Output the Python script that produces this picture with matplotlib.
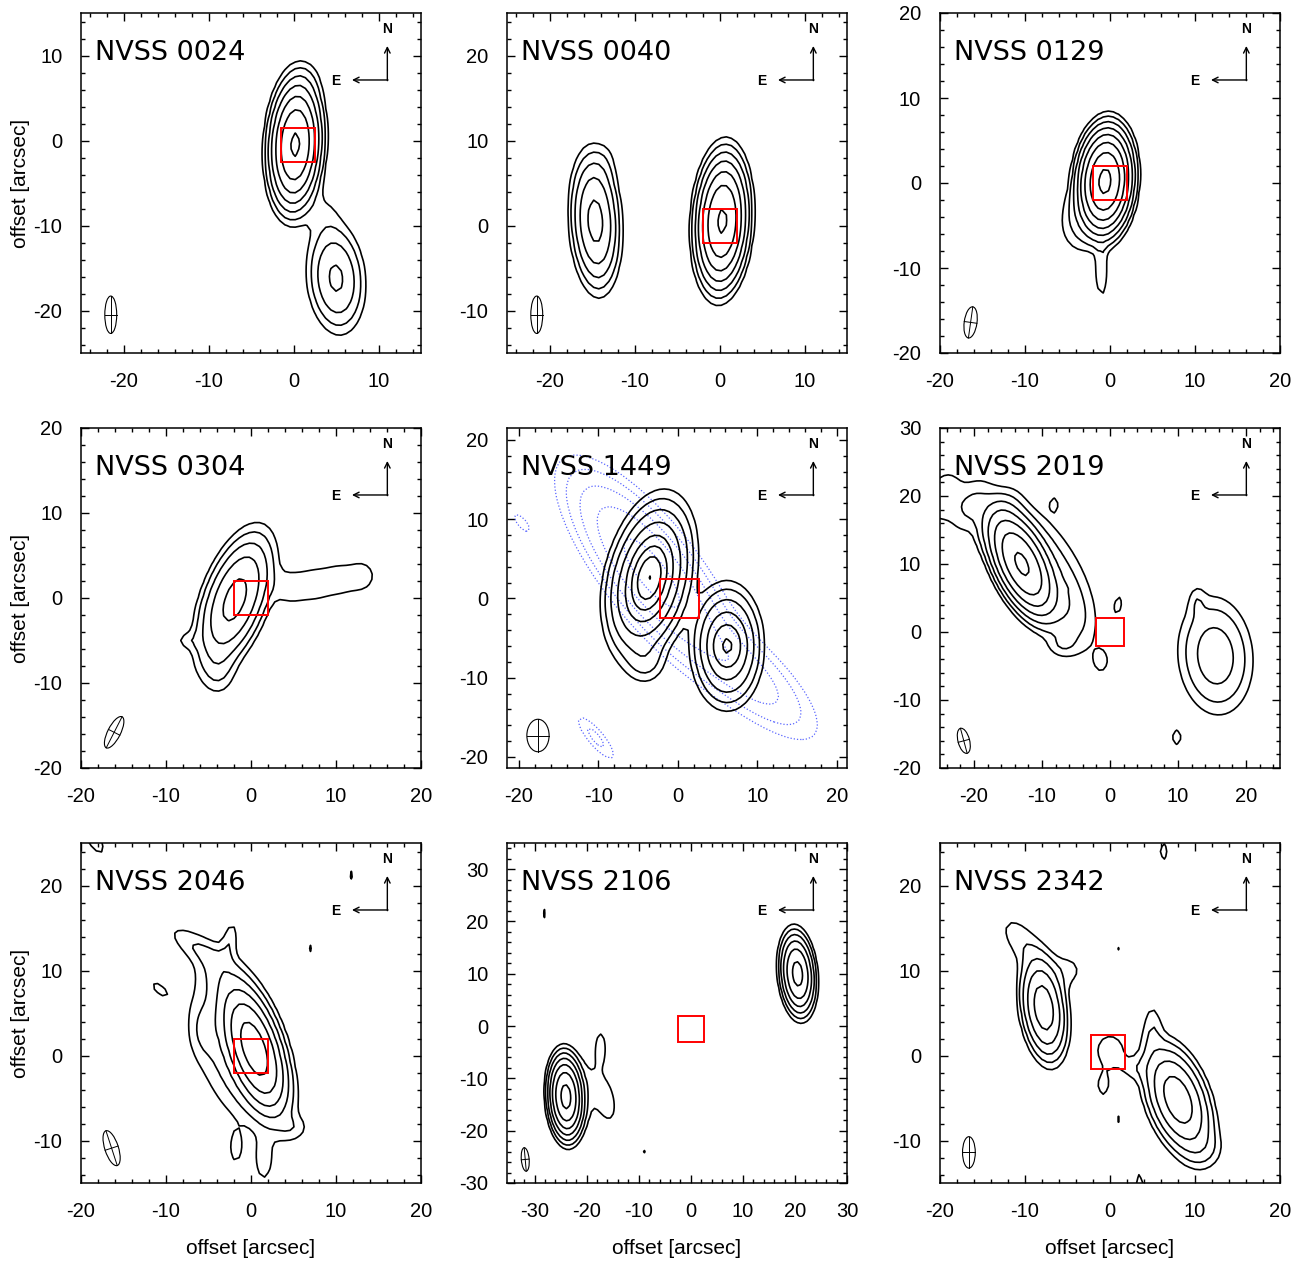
import numpy as np
import matplotlib
matplotlib.use("Agg")
import matplotlib.pyplot as plt
from matplotlib.patches import Ellipse, Rectangle
from matplotlib.ticker import MultipleLocator

plt.rcParams['axes.unicode_minus'] = False
plt.rcParams['font.family'] = ['Liberation Sans', 'DejaVu Sans']

# ---------------- data ----------------
names = ["NVSS 0024", "NVSS 0040", "NVSS 0129",
         "NVSS 0304", "NVSS 1449", "NVSS 2019",
         "NVSS 2046", "NVSS 2106", "NVSS 2342"]

xlims = [(-25, 15), (-25, 15), (-20, 20),
         (-20, 20), (-21.5, 21.3), (-25, 25),
         (-20, 20), (-35.3, 30), (-20, 20)]
ylims = [(-25, 15), (-15, 25), (-20, 20),
         (-20, 20), (-21.4, 21.5), (-20, 30),
         (-15, 25), (-30, 35), (-15, 25)]

# source components: (x0, y0, sigma_x, sigma_y, pa_deg, peak)  [arcsec, contour units]
src_0024 = [(0.2, -0.5, 1.3, 3.3, -3, 70),
            (1.5, 7.0, 1.2, 1.5, 0, 0.8),
            (5.0, -16.2, 1.65, 3.2, 5, 9),
            (3.5, -8.5, 1.5, 2.0, 0, 0.9)]
src_0040 = [(-14.6, 0.5, 1.3, 3.7, 3, 20),
            (-13.6, 7.0, 1.0, 2.0, -10, 0.8),
            (0.3, 0.5, 1.3, 3.4, -3, 70)]
src_0129 = [(-0.6, 0.2, 1.3, 2.6, -4, 150),
            (-1.0, -10.5, 0.5, 2.2, 0, 2.0),
            (-3.8, -4.5, 1.5, 2.5, 0, 2.0)]
src_0304 = [(-1.9, -0.2, 1.7, 3.9, -20, 20),
            (-3.8, -8.5, 1.3, 2.0, 0, 1.6),
            (4.5, 1.2, 1.5, 1.6, 0, 1.4),
            (7.5, 1.6, 1.5, 1.6, 0, 1.4),
            (10.5, 2.2, 1.5, 1.6, 0, 1.4),
            (13.2, 2.6, 1.2, 1.4, 0, 1.4),
            (-7.5, -5.0, 1.0, 0.7, 0, 1.1)]
src_1449 = [(-3.6, 2.6, 1.0, 2.0, -12, 100),
            (-3.5, 2.5, 2.2, 4.4, -12, 30),
            (-6.5, 0.0, 1.5, 3.0, 0, 1.5),
            (6.2, -6.0, 1.0, 1.5, 0, 20),
            (6.2, -6.0, 2.0, 3.5, 0, 16),
            (-4.0, -8.0, 1.5, 1.7, 0, 2.0)]
src_1449_blue = [(-3.5, 3.5, 2.5, 7.3, 38, 20),
                 (8.0, -9.0, 2.2, 6.5, 48, 6),
                 (-19.6, 9.5, 0.6, 1.5, 40, 1.5),
                 (-10.3, -17.6, 0.7, 2.4, 40, 2.5)]
src_2019 = [(-13.0, 10.0, 1.7, 3.8, 25, 70),
            (-9.5, 9.5, 3.0, 6.5, 30, 3),
            (-16.5, 16.5, 2.8, 1.6, 60, 2.0),
            (-20.5, 18.5, 2.8, 1.6, 65, 2.0),
            (-24.5, 20.0, 2.8, 1.8, 70, 1.9),
            (-6.0, 3.0, 2.0, 4.0, 20, 1.8),
            (-7.0, -2.0, 1.5, 1.2, 0, 1.4),
            (-8.2, 18.8, 0.6, 1.0, 0, 1.25),
            (-6.9, 6.5, 0.4, 0.4, 0, 1.1),
            (1.2, 4.0, 0.6, 1.4, -10, 1.3),
            (-1.3, -4.3, 0.9, 1.4, 0, 1.35),
            (9.8, -15.5, 0.8, 1.4, 0, 1.3),
            (8.5, 2.0, 0.2, 0.2, 0, 1.05),
            (15.5, -3.5, 2.9, 4.6, 5, 6),
            (12.8, 4.5, 0.8, 1.5, 0, 1.2)]
src_2046 = [(0.4, 0.8, 1.4, 3.6, 18, 45),
            (-1.5, 0.5, 3.0, 6.0, 20, 3.2),
            (-5.5, 3.0, 1.0, 2.0, 0, 1.2),
            (-3.5, 9.5, 1.5, 2.5, 30, 1.6),
            (-6.5, 12.8, 1.0, 2.8, 55, 1.6),
            (-2.5, 13.5, 0.6, 1.8, -10, 1.5),
            (-1.8, -11.0, 0.6, 1.5, 0, 1.3),
            (1.5, -12.5, 0.8, 2.0, 0, 1.35),
            (5.0, -8.5, 1.2, 1.0, 0, 1.2),
            (-18.5, 25.5, 0.8, 2.0, 30, 1.5),
            (-16.4, 12.3, 0.6, 0.4, 30, 1.2),
            (-10.8, 7.8, 0.6, 1.3, 50, 1.25),
            (11.8, 21.2, 0.3, 0.8, 0, 1.2),
            (6.9, 12.6, 0.3, 0.9, 0, 1.2)]
src_2106 = [(-24.0, -13.5, 1.4, 3.4, 3, 80),
            (-20.0, -12.0, 2.5, 5.0, 0, 1.2),
            (-17.3, -4.0, 0.8, 2.5, 0, 1.5),
            (-16.0, -14.5, 1.4, 3.5, 10, 1.3),
            (20.5, 10.0, 1.45, 3.5, 5, 40),
            (-28.3, 21.5, 0.35, 1.8, 0, 1.3),
            (-9.0, -24.0, 0.4, 0.6, 0, 1.2)]
src_2342 = [(-7.8, 5.6, 1.2, 2.9, 8, 24),
            (-10.5, 13.5, 1.3, 2.5, 35, 1.6),
            (-5.0, 10.0, 1.5, 1.5, 0, 1.3),
            (8.0, -5.2, 1.6, 3.2, 20, 24),
            (5.0, 3.0, 0.8, 2.3, 0, 1.6),
            (11.0, -11.0, 1.5, 1.5, 0, 1.4),
            (0.0, 0.6, 1.3, 1.5, 0, 1.8),
            (-0.8, -3.5, 0.7, 1.3, 0, 1.4),
            (2.8, -1.5, 1.3, 1.0, 0, 1.2),
            (0.9, 12.5, 0.2, 0.8, 0, 1.2),
            (1.0, -7.5, 0.35, 0.6, 0, 1.2),
            (15.9, -12.0, 0.12, 0.5, 0, 1.1),
            (6.3, 24.0, 0.6, 1.3, 0, 1.3),
            (3.5, -16.5, 0.6, 2.8, 0, 1.5)]

sources = [src_0024, src_0040, src_0129, src_0304, src_1449,
           src_2019, src_2046, src_2106, src_2342]

levels = [[1, 2, 4, 8, 16, 32, 64],
          [1, 2, 4, 8, 16, 32, 64],
          [1, 2, 4, 8, 16, 32, 64, 128],
          [1, 2, 4, 8, 16],
          [1, 2, 4, 8, 16, 32, 64, 128],
          [1, 2, 4, 8, 16, 32, 64],
          [1, 2, 4, 8, 16, 32],
          [1, 2, 4, 8, 16, 32, 64],
          [1, 2, 4, 8, 16]]
levels_1449_blue = [1, 2, 4, 8, 16]

# optical position boxes: (x_center, y_center, size)
boxes = [(0.5, -0.5, 4), (0, 0, 4), (0, 0, 4),
         (0, 0, 4), (0.2, 0.0, 5), (0, 0, 4),
         (0, -0.1, 4), (0, -0.5, 5), (-0.25, 0.45, 4)]

# restoring beams: (x, y, minor, major, pa_deg)
beams = [(-21.5, -20.5, 1.4, 4.4, 0), (-21.5, -10.5, 1.4, 4.4, 0),
         (-16.4, -16.4, 1.5, 3.7, -8), (-16.1, -15.8, 1.5, 4.1, -27),
         (-17.6, -17.3, 2.8, 4.1, 0), (-21.5, -16.0, 1.7, 3.8, 15),
         (-16.4, -10.9, 1.6, 4.3, 18), (-31.8, -25.5, 1.5, 4.5, 5),
         (-16.6, -11.4, 1.5, 3.7, 0)]


# ---------------- helpers ----------------
def field(comps, X, Y):
    Z = np.zeros_like(X)
    for (x0, y0, sx, sy, pa, amp) in comps:
        a = np.radians(pa)
        dx, dy = X - x0, Y - y0
        u = dx * np.cos(a) + dy * np.sin(a)
        v = -dx * np.sin(a) + dy * np.cos(a)
        Z += amp * np.exp(-0.5 * ((u / sx) ** 2 + (v / sy) ** 2))
    return Z


W, H = 1307, 1261
fig = plt.figure(figsize=(W / 100, H / 100), dpi=100)
col_left = [81, 507, 940]
row_top = [13, 428, 843]
size_px = 340

for i in range(9):
    r, c = divmod(i, 3)
    ax = fig.add_axes([col_left[c] / W, 1 - (row_top[r] + size_px) / H,
                       size_px / W, size_px / H])
    xl, yl = xlims[i], ylims[i]
    gx = np.arange(xl[0] - 3, xl[1] + 3, 0.6)
    gy = np.arange(yl[0] - 3, yl[1] + 3, 0.6)
    X, Y = np.meshgrid(gx, gy)

    if i == 4:
        Zb = field(src_1449_blue, X, Y)
        ax.contour(X, Y, Zb, levels=levels_1449_blue, colors='#5a66ff',
                   linewidths=0.9, linestyles=[(0, (1, 1.6))])
    Z = field(sources[i], X, Y)
    ax.contour(X, Y, Z, levels=levels[i], colors='black', linewidths=1.2)

    bx, by, bs = boxes[i]
    ax.add_patch(Rectangle((bx - bs / 2, by - bs / 2), bs, bs, fill=False,
                           edgecolor='red', linewidth=1.4, zorder=5))

    ex, ey, bmin, bmaj, bpa = beams[i]
    a = np.radians(bpa)
    ax.add_patch(Ellipse((ex, ey), width=bmin, height=bmaj, angle=bpa,
                         fill=False, edgecolor='black', linewidth=0.8))
    ax.plot([ex + bmaj / 2 * np.sin(a), ex - bmaj / 2 * np.sin(a)],
            [ey - bmaj / 2 * np.cos(a), ey + bmaj / 2 * np.cos(a)],
            color='black', lw=0.7)
    ax.plot([ex - bmin / 2 * np.cos(a), ex + bmin / 2 * np.cos(a)],
            [ey - bmin / 2 * np.sin(a), ey + bmin / 2 * np.sin(a)],
            color='black', lw=0.7)

    ax.set_xlim(*xl)
    ax.set_ylim(*yl)
    ax.xaxis.set_major_locator(MultipleLocator(10))
    ax.yaxis.set_major_locator(MultipleLocator(10))
    ax.xaxis.set_minor_locator(MultipleLocator(2))
    ax.yaxis.set_minor_locator(MultipleLocator(2))
    ax.tick_params(which='both', direction='in', top=True, right=True,
                   labelsize=14.5, pad=13.5, width=1.0)
    ax.tick_params(which='major', length=6)
    ax.tick_params(which='minor', length=3)
    for sp in ax.spines.values():
        sp.set_linewidth(1.1)

    ax.text(0.04, 0.862, names[i], transform=ax.transAxes, fontsize=19.5,
            family='DejaVu Sans', va='baseline', ha='left')

    # N / E compass
    ax.annotate('', xy=(0.901, 0.903), xytext=(0.901, 0.801),
                xycoords='axes fraction',
                arrowprops=dict(arrowstyle='->', lw=1.0, color='black',
                                shrinkA=0, shrinkB=0))
    ax.annotate('', xy=(0.797, 0.803), xytext=(0.903, 0.803),
                xycoords='axes fraction',
                arrowprops=dict(arrowstyle='->', lw=1.0, color='black',
                                shrinkA=0, shrinkB=0))
    ax.text(0.901, 0.94, 'N', transform=ax.transAxes, fontsize=10,
            fontweight='bold', ha='center', va='baseline')
    ax.text(0.75, 0.788, 'E', transform=ax.transAxes, fontsize=10,
            fontweight='bold', ha='center', va='baseline')

    if c == 0:
        fig.text(21 / W, 1 - (row_top[r] + size_px / 2) / H, 'offset [arcsec]',
                 rotation=90, ha='center', va='center', fontsize=15)
    if r == 2:
        fig.text((col_left[c] + size_px / 2) / W, 1 - 1249 / H,
                 'offset [arcsec]', ha='center', va='center', fontsize=15)

fig.savefig('out.png', dpi=100)
